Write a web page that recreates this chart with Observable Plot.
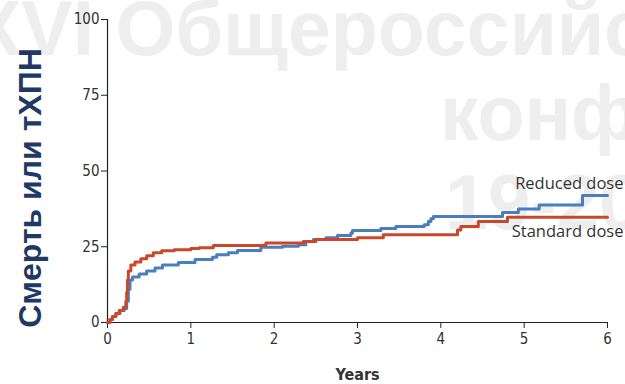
<!DOCTYPE html>
<html>
<head>
<meta charset="utf-8">
<script src="https://cdn.jsdelivr.net/npm/d3@7"></script>
<script src="https://cdn.jsdelivr.net/npm/@observablehq/plot@0.6"></script>
<style>
  html, body { margin: 0; padding: 0; background: #fff; }
  #wrap { position: relative; width: 625px; height: 384px; overflow: hidden; }
  #wm { position: absolute; left: 0; top: 0; z-index: 0; }
  #chart { position: absolute; left: 0; top: 0; z-index: 1; }
</style>
</head>
<body>
<div id="wrap">
  <svg id="wm" width="625" height="384">
    <g font-family="Liberation Sans, Arial, sans-serif" font-weight="bold" font-size="77" fill="#eeeeee">
      <text x="-30" y="55">XVI Общероссийская</text>
      <text x="440" y="140">конференция</text>
      <text x="445" y="229">19-20</text>
    </g>
  </svg>
  <div id="chart"></div>
</div>
<script>
const xTicks = [0, 1, 2, 3, 4, 5, 6];
const yTicks = [0, 25, 50, 75, 100];
const seriesNames = ["Reduced dose", "Standard dose"];
const seriesColors = ["#4a7ebf", "#c9482c"];

const reducedYears = [0, 0.03, 0.06, 0.1, 0.15, 0.2, 0.23, 0.25, 0.27, 0.3, 0.38, 0.47, 0.57, 0.66, 0.85, 1.05, 1.26, 1.31, 1.45, 1.56, 1.84, 2.1, 2.29, 2.38, 2.47, 2.62, 2.76, 2.92, 2.94, 3.28, 3.46, 3.8, 3.85, 3.88, 3.91, 4.74, 4.93, 5.18, 5.7, 6.0];
const reducedPct   = [0, 1, 2, 3, 4, 4.6, 7, 11, 14, 15, 16, 17, 18, 19, 19.8, 20.8, 21.5, 22.4, 23, 23.8, 24.8, 25.2, 25.7, 26.7, 27.4, 28, 28.7, 29.5, 30.4, 31, 31.7, 32.3, 33.3, 34.2, 35, 36.3, 37.5, 38.8, 41.9, 41.9];

const standardYears = [0, 0.03, 0.06, 0.1, 0.14, 0.19, 0.22, 0.23, 0.24, 0.25, 0.28, 0.33, 0.4, 0.47, 0.55, 0.65, 0.8, 1.0, 1.1, 1.27, 1.9, 2.35, 2.5, 3.0, 3.31, 4.2, 4.24, 4.45, 4.8, 6.0];
const standardPct   = [0, 1, 2, 3, 4, 5, 7, 10, 14, 17, 19, 20, 21, 22, 23, 23.7, 24, 24.4, 24.7, 25.4, 26.2, 26.7, 27.4, 28, 29, 30.5, 31.7, 33.3, 34.7, 34.7];

const yLabel = "Смерть или тХПН";
const xLabel = "Years";

const data = [
  ...reducedYears.map((t, i) => ({series: seriesNames[0], t, p: reducedPct[i]})),
  ...standardYears.map((t, i) => ({series: seriesNames[1], t, p: standardPct[i]}))
];
const lastReduced = data.filter(d => d.series === seriesNames[0]).slice(-1);
const lastStandard = data.filter(d => d.series === seriesNames[1]).slice(-1);

const tickFont = "'Liberation Sans Narrow', 'DejaVu Sans Condensed', 'Liberation Sans', sans-serif";
const labelFont = "'Open Sans', sans-serif";

const chart = Plot.plot({
  width: 625,
  height: 384,
  marginLeft: 107,
  marginRight: 18,
  marginTop: 19,
  marginBottom: 62,
  style: {background: "transparent", fontFamily: tickFont, fontSize: "14px", color: "#333", overflow: "visible"},
  x: {domain: [0, 6]},
  y: {domain: [0, 100]},
  color: {domain: seriesNames, range: seriesColors},
  marks: [
    Plot.axisX({ticks: xTicks, tickFormat: d => String(d), tickSize: 6, tickPadding: 5, label: null, fontSize: 15, stroke: "#222"}),
    Plot.axisY({ticks: yTicks, tickFormat: d => String(d), tickSize: 6, tickPadding: 2, label: null, fontSize: 15, stroke: "#222"}),
    Plot.ruleX([0], {stroke: "#222", strokeWidth: 1.2}),
    Plot.ruleY([0], {stroke: "#222", strokeWidth: 1.2}),
    Plot.line(data, {x: "t", y: "p", z: "series", stroke: "series", curve: "step-after", strokeWidth: 3}),
    Plot.text(lastReduced, {x: "t", y: "p", text: "series", textAnchor: "end", dx: 16, dy: -12, fontSize: 16.5, fill: "#333", fontFamily: labelFont}),
    Plot.text(lastStandard, {x: "t", y: "p", text: "series", textAnchor: "end", dx: 16, dy: 14, fontSize: 16.5, fill: "#333", fontFamily: labelFont}),
    Plot.text([xLabel], {frameAnchor: "bottom", dy: 57, fontSize: 16, fontWeight: "bold", fill: "#333"}),
    Plot.text([yLabel], {frameAnchor: "left", textAnchor: "middle", rotate: -90, dx: -77, dy: 17, fontSize: 32, fontWeight: "bold", fill: "#1f3864", fontFamily: "'Liberation Sans', Arial, sans-serif"})
  ]
});
document.getElementById("chart").appendChild(chart);
</script>
</body>
</html>
